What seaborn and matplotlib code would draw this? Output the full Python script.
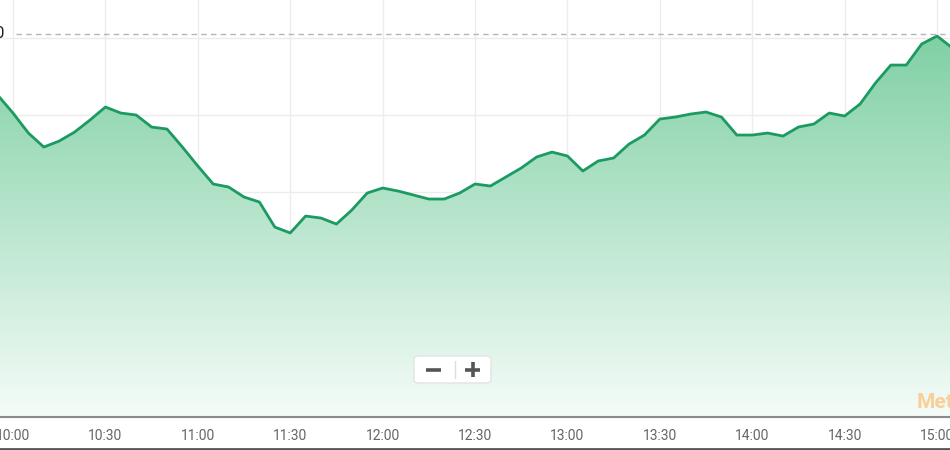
import numpy as np
import pandas as pd
import matplotlib
matplotlib.use("Agg")
import matplotlib.pyplot as plt
import seaborn as sns
from matplotlib.patches import FancyBboxPatch
from matplotlib.lines import Line2D
from matplotlib.colors import LinearSegmentedColormap

# ---- data (5-minute intraday prices, 09:55 - 15:05) ----
times = pd.date_range("2024-01-02 09:55", "2024-01-02 15:05", freq="5min")
prices = [3292.60, 3290.26, 3287.66, 3285.84, 3286.62, 3287.79, 3289.35, 3291.04,
          3290.26, 3290.00, 3288.44, 3288.18, 3285.84, 3283.38, 3281.04, 3280.65,
          3279.35, 3278.70, 3275.45, 3274.68, 3276.88, 3276.62, 3275.84, 3277.66,
          3279.87, 3280.52, 3280.13, 3279.61, 3279.09, 3279.09, 3279.87, 3281.04,
          3280.78, 3281.95, 3283.12, 3284.55, 3285.19, 3284.68, 3282.73, 3284.03,
          3284.42, 3286.23, 3287.40, 3289.48, 3289.74, 3290.13, 3290.39, 3289.74,
          3287.40, 3287.40, 3287.66, 3287.27, 3288.44, 3288.83, 3290.26, 3289.87,
          3291.43, 3294.16, 3296.49, 3296.49, 3299.22, 3300.26, 3298.70]
prev_close = 3300.50
prev_close_label = "3300.50"
tick_labels = ["10:00", "10:30", "11:00", "11:30", "12:00", "12:30",
               "13:00", "13:30", "14:00", "14:30", "15:00"]
grid_levels = [3260, 3270, 3280, 3290, 3300]

minutes = np.array([(t.hour * 60 + t.minute) - 600 for t in times], dtype=float)
tick_pos = [int(l[:2]) * 60 + int(l[3:]) - 600 for l in tick_labels]
df = pd.DataFrame({"minute": minutes, "price": prices})

sns.set_style("white")
plt.rcParams["font.family"] = ["Roboto", "DejaVu Sans"]

W, H = 950, 450
fig = plt.figure(figsize=(9.5, 4.5), dpi=100)
ax = fig.add_axes([0, 33 / H, 1, 417 / H])

ymin, ymax = 3250.78, 3304.94
ax.set_xlim(-4.22, 304.2)
ax.set_ylim(ymin, ymax)

# gradient area fill
poly = ax.fill_between(df["minute"], df["price"], ymin, color="none", lw=0)
cmap = LinearSegmentedColormap.from_list(
    "g", [(245 / 255, 252 / 255, 248 / 255), (128 / 255, 208 / 255, 165 / 255)])
grad = np.linspace(0, 1, 256).reshape(-1, 1)
img = ax.imshow(grad, cmap=cmap, origin="lower", aspect="auto",
                extent=[-4.22, 304.2, ymin, max(prices)], zorder=1)
img.set_clip_path(poly.get_paths()[0], transform=ax.transData)

sns.lineplot(data=df, x="minute", y="price", ax=ax, color="#1b9a62",
             linewidth=2.0, zorder=3)

# grid
ax.set_xticks(tick_pos)
ax.set_xticklabels(tick_labels)
ax.set_yticks(grid_levels)
ax.set_yticklabels([])
ax.grid(True, color="#ececec", linewidth=1.0, zorder=0)
ax.set_axisbelow(True)
ax.set_xlabel("")
ax.set_ylabel("")

for s in ["top", "left", "right"]:
    ax.spines[s].set_visible(False)
ax.spines["bottom"].set_color("#8a8a8a")
ax.spines["bottom"].set_linewidth(1.5)
ax.tick_params(axis="x", direction="out", length=5, width=1, color="#8a8a8a",
               labelcolor="#666666", labelsize=10, pad=4)
ax.tick_params(axis="y", length=0)

# previous close dashed line and cropped label
ax.axhline(prev_close, xmin=16 / W, xmax=1, color="#b5b5b5",
           linestyle=(0, (4, 3)), linewidth=1, zorder=2)
fig.text(5 / W, 1 - 34 / H, prev_close_label, ha="right", va="center",
         fontsize=12, color="#222222")

# zoom buttons
box = FancyBboxPatch((414 / W, 1 - 383 / H), 77 / W, 27 / H,
                     boxstyle="round,pad=0,rounding_size=0.006",
                     transform=fig.transFigure, facecolor="white",
                     edgecolor="#e3e3e3", linewidth=1, zorder=5)
fig.add_artist(box)
btn = dict(transform=fig.transFigure, color="#555555", lw=2.6,
           solid_capstyle="butt", zorder=6)
fig.add_artist(Line2D([455 / W, 455 / W], [1 - 378 / H, 1 - 361 / H],
                      transform=fig.transFigure, color="#dddddd", lw=1, zorder=6))
fig.add_artist(Line2D([426 / W, 441 / W], [1 - 369.5 / H, 1 - 369.5 / H], **btn))
fig.add_artist(Line2D([465 / W, 480 / W], [1 - 369.5 / H, 1 - 369.5 / H], **btn))
fig.add_artist(Line2D([472.5 / W, 472.5 / W], [1 - 377 / H, 1 - 362 / H], **btn))

# watermark (cropped at right edge)
fig.text(917 / W, 1 - 403 / H, "Meta", ha="left", va="center",
         fontsize=15, fontweight="bold", color="#f8cf98")

# bottom border of the screenshot
fig.add_artist(Line2D([0, 1], [1 / H, 1 / H], transform=fig.transFigure,
                      color="#555555", lw=2))

fig.savefig("out.png", dpi=100)
